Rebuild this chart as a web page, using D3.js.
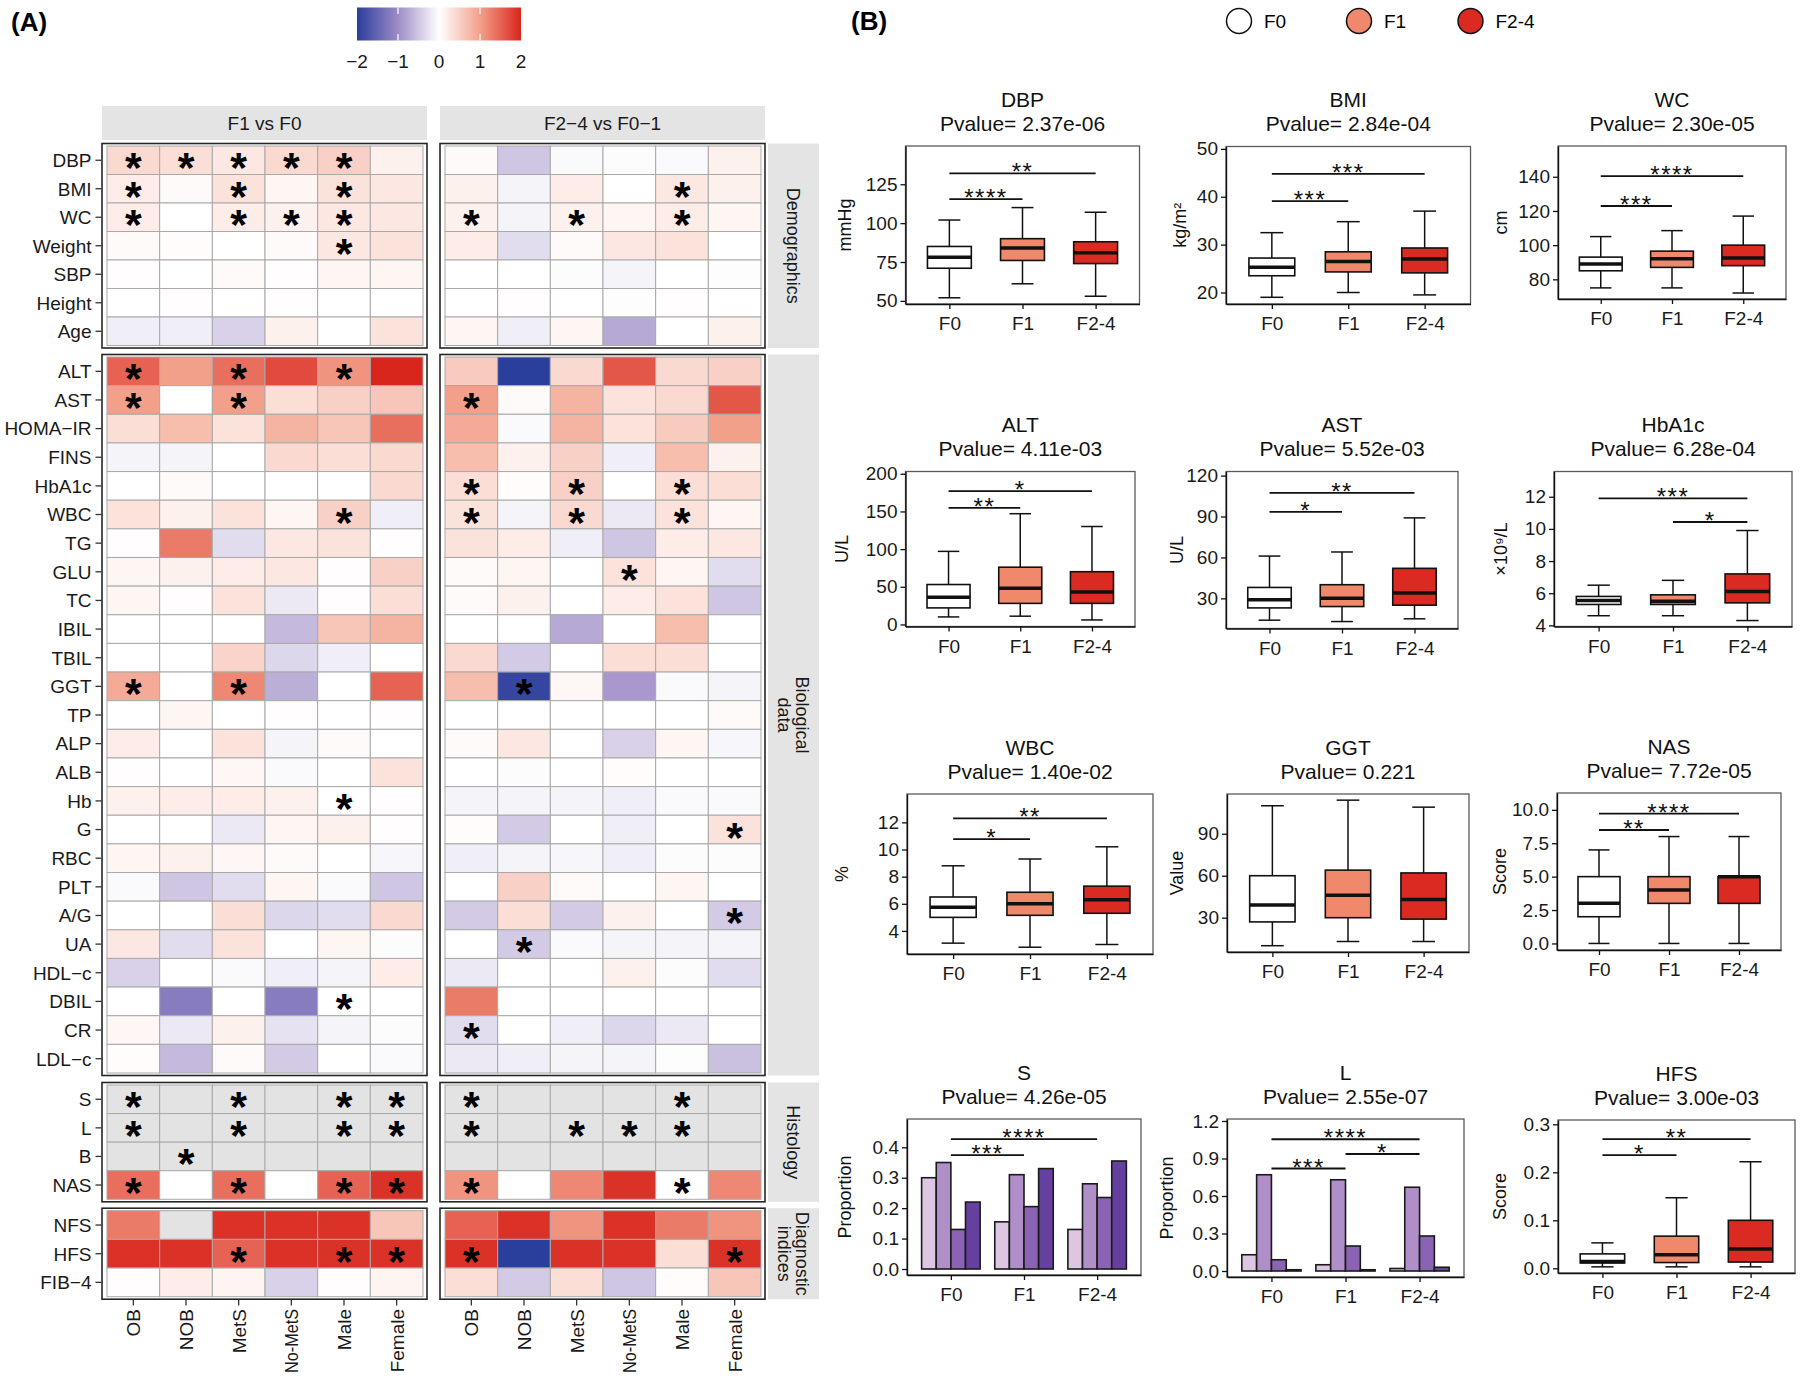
<!DOCTYPE html>
<html>
<head>
<meta charset="utf-8">
<script src="https://cdn.jsdelivr.net/npm/d3@7"></script>
<style>
  body { margin: 0; background: #fff; }
  text { font-family: "Liberation Sans", Arial, sans-serif; }
</style>
</head>
<body>
<svg id="fig" width="1800" height="1381"></svg>
<script>
//:\\\ data //:\\\

var subgroups = ["OB", "NOB", "MetS", "No-MetS", "Male", "Female"];
var demoNames = ["DBP", "BMI", "WC", "Weight", "SBP", "Height", "Age"];
var bioNames = ["ALT", "AST", "HOMA\u2212IR", "FINS", "HbA1c", "WBC", "TG", "GLU", "TC", "IBIL", "TBIL", "GGT", "TP",
                "ALP", "ALB", "Hb", "G", "RBC", "PLT", "A/G", "UA", "HDL\u2212c", "DBIL", "CR", "LDL\u2212c"];
var histNames = ["S", "L", "B", "NAS"];
var diagNames = ["NFS", "HFS", "FIB\u22124"];

// F1 vs F0 (left facet), one row per variable, columns = subgroups
var f1Demo = [
  [0.4, 0.35, 0.25, 0.4, 0.5, 0.15],
  [0.2, 0.05, 0.3, 0.1, 0.3, 0.25],
  [0.2, 0.0, 0.2, 0.15, 0.25, 0.25],
  [0.05, 0.03, 0.0, 0.05, 0.25, 0.3],
  [0.02, 0.0, 0.05, 0.02, 0.1, 0.1],
  [0.0, 0.02, 0.0, 0.02, 0.0, 0.0],
  [-0.15, -0.15, -0.4, 0.15, 0.0, 0.3]
];
var f1DemoStar = ["111110", "101010", "101110", "000010", "000000", "000000", "000000"];
var f1Bio = [
  [1.5, 1.0, 1.4, 1.7, 1.1, 2.0],
  [1.0, 0.0, 1.0, 0.35, 0.5, 0.6],
  [0.35, 0.7, 0.3, 0.8, 0.6, 1.4],
  [-0.1, -0.1, 0.0, 0.4, 0.35, 0.4],
  [0.0, 0.05, 0.0, 0.0, 0.0, 0.4],
  [0.3, 0.15, 0.3, 0.1, 0.5, -0.15],
  [0.02, 1.3, -0.3, 0.25, 0.3, 0.02],
  [0.1, 0.15, 0.2, 0.25, 0.02, 0.5],
  [0.1, 0.02, 0.3, -0.2, 0.02, 0.35],
  [0.0, 0.0, 0.0, -0.6, 0.6, 0.8],
  [0.0, 0.0, 0.45, -0.35, -0.15, 0.0],
  [0.9, 0.0, 1.2, -0.7, 0.0, 1.5],
  [0.0, 0.1, 0.0, 0.02, 0.0, 0.02],
  [0.2, 0.0, 0.3, -0.1, 0.05, 0.0],
  [0.02, 0.0, 0.08, -0.05, 0.0, 0.3],
  [0.15, 0.2, 0.2, 0.15, 0.0, 0.02],
  [0.0, 0.0, -0.2, 0.1, 0.15, 0.02],
  [0.1, 0.15, 0.08, 0.05, 0.0, -0.08],
  [-0.05, -0.5, -0.3, 0.1, -0.05, -0.5],
  [0.0, 0.0, 0.35, -0.35, -0.3, 0.4],
  [0.25, -0.3, 0.3, 0.0, 0.1, -0.03],
  [-0.4, 0.0, -0.05, -0.15, -0.1, 0.2],
  [0.0, -1.2, 0.0, -1.2, 0.0, 0.0],
  [0.08, -0.2, 0.15, -0.25, -0.1, -0.03],
  [0.03, -0.6, 0.05, -0.45, 0.0, -0.05]
];
var f1BioStar = ["101010", "101000", "000000", "000000", "000000", "000010", "000000", "000000", "000000",
                 "000000", "000000", "101000", "000000", "000000", "000000", "000010", "000000", "000000",
                 "000000", "000000", "000000", "000000", "000010", "000000", "000000"];
var f1Hist = [
  [null, null, null, null, null, null],
  [null, null, null, null, null, null],
  [null, null, null, null, null, null],
  [1.4, 0.0, 1.4, 0.0, 1.5, 1.9]
];
var f1HistStar = ["101011", "101011", "010000", "101011"];
var f1Diag = [
  [1.3, null, 1.9, 1.9, 1.9, 0.6],
  [1.9, 1.9, 1.5, 1.9, 1.9, 1.9],
  [0.02, 0.2, 0.12, -0.4, 0.02, 0.12]
];
var f1DiagStar = ["000000", "001011", "000000"];

// F2-4 vs F0-1 (right facet)
var f24Demo = [
  [0.05, -0.5, -0.05, -0.03, -0.05, 0.15],
  [0.15, -0.1, 0.2, 0.0, 0.25, 0.15],
  [0.15, -0.1, 0.15, 0.1, 0.2, 0.1],
  [0.2, -0.3, 0.05, 0.25, 0.3, 0.0],
  [0.0, 0.0, -0.03, -0.1, 0.0, -0.02],
  [0.0, 0.02, 0.0, -0.02, 0.02, 0.0],
  [0.1, -0.15, 0.1, -0.75, 0.0, 0.15]
];
var f24DemoStar = ["000000", "000010", "101010", "000000", "000000", "000000", "000000"];
var f24Bio = [
  [0.55, -2.0, 0.4, 1.6, 0.4, 0.5],
  [1.0, 0.05, 0.8, 0.3, 0.4, 1.6],
  [0.9, -0.05, 0.8, 0.3, 0.55, 1.0],
  [0.7, 0.15, 0.5, -0.15, 0.7, 0.15],
  [0.35, 0.03, 0.5, 0.0, 0.35, 0.35],
  [0.3, -0.1, 0.4, -0.2, 0.3, 0.1],
  [0.3, 0.2, -0.15, -0.5, 0.2, 0.25],
  [0.05, 0.1, 0.0, 0.3, 0.1, -0.3],
  [0.05, 0.15, 0.0, 0.2, 0.3, -0.5],
  [0.0, 0.0, -0.75, 0.0, 0.7, 0.0],
  [0.4, -0.45, 0.0, 0.35, 0.35, 0.0],
  [0.7, -1.9, 0.08, -0.9, -0.05, -0.1],
  [0.0, 0.0, 0.0, 0.0, 0.0, 0.05],
  [0.05, 0.25, 0.0, -0.4, 0.1, -0.08],
  [0.0, -0.03, 0.0, 0.03, 0.0, 0.0],
  [-0.1, -0.1, -0.1, -0.15, -0.05, -0.05],
  [0.03, -0.45, 0.0, -0.15, 0.0, 0.3],
  [-0.15, -0.1, -0.08, -0.15, -0.03, -0.03],
  [0.0, 0.5, 0.05, 0.0, 0.1, 0.0],
  [-0.45, 0.35, -0.45, 0.15, 0.0, -0.45],
  [0.0, -0.45, -0.05, -0.1, -0.1, -0.1],
  [-0.2, 0.0, 0.0, 0.15, -0.03, -0.3],
  [1.3, 0.0, 0.0, 0.0, 0.0, 0.0],
  [-0.3, 0.0, -0.15, -0.35, -0.2, 0.0],
  [-0.2, -0.15, -0.1, -0.1, -0.02, -0.55]
];
var f24BioStar = ["000000", "100000", "000000", "000000", "101010", "101010", "000000", "000100", "000000",
                  "000000", "000000", "010000", "000000", "000000", "000000", "000000", "000001", "000000",
                  "000000", "000001", "010000", "000000", "000000", "100000", "000000"];
var f24Hist = [
  [null, null, null, null, null, null],
  [null, null, null, null, null, null],
  [null, null, null, null, null, null],
  [1.1, 0.0, 1.2, 1.9, 0.0, 1.2]
];
var f24HistStar = ["100010", "101110", "000000", "100010"];
var f24Diag = [
  [1.5, 1.9, 1.1, 1.9, 1.3, 1.1],
  [1.9, -2.0, 1.9, 1.9, 0.35, 1.9],
  [0.35, -0.45, 0.35, -0.5, 0.03, 0.6]
];
var f24DiagStar = ["000000", "100001", "000000"];

// panel B: box stats per stage = [low whisker, Q1, median, Q3, high whisker]
var stages = ["F0", "F1", "F2-4"];
var dbpBox = [[52, 71, 78, 85, 102], [61, 76, 84, 90, 110], [53, 74, 81, 88, 107]];
var bmiBox = [[19, 23.5, 25.3, 27.2, 32.5], [20, 24.3, 26.5, 28.5, 34.8], [19.5, 24.1, 27, 29.3, 37]];
var wcBox = [[75, 85, 89, 93, 105], [75, 87, 92, 96.5, 108.5], [72, 88, 92.5, 100, 117]];
var altBox = [[10, 22, 36, 53, 97], [11, 28, 48, 76, 147], [6, 28, 43, 70, 130]];
var astBox = [[14, 23, 29, 38, 61], [13, 24, 30, 40, 64], [15, 25, 34, 52, 89]];
var hba1cBox = [[4.6, 5.3, 5.55, 5.8, 6.5], [4.6, 5.3, 5.5, 5.9, 6.8], [4.3, 5.4, 6.1, 7.2, 9.9]];
var wbcBox = [[3.1, 5.0, 5.75, 6.5, 8.8], [2.8, 5.15, 6.0, 6.85, 9.3], [3.0, 5.3, 6.3, 7.3, 10.2]];
var ggtBox = [[10, 27, 39, 60, 110], [13, 30, 46, 64, 114], [13, 29, 43, 62, 109]];
var nasBox = [[0, 2, 3, 5, 7], [0, 3, 4, 5, 8], [0, 3, 5, 5, 8]];
var hfsBox = [[0.003, 0.011, 0.014, 0.03, 0.053], [0.003, 0.012, 0.028, 0.067, 0.147], [0.003, 0.013, 0.04, 0.1, 0.222]];
// proportions of grade 0..3 per stage
var sBars = [[0.30, 0.35, 0.13, 0.22], [0.155, 0.31, 0.205, 0.33], [0.13, 0.28, 0.235, 0.355]];
var lBars = [[0.13, 0.77, 0.09, 0.01], [0.05, 0.73, 0.20, 0.01], [0.02, 0.67, 0.28, 0.03]];

// significance brackets: [from stage, to stage, height, label]
var dbpSig = [[0, 1, 115.5, "****"], [0, 2, 132, "**"]];
var bmiSig = [[0, 1, 39.1, "***"], [0, 2, 44.8, "***"]];
var wcSig = [[0, 1, 122.9, "***"], [0, 2, 140.4, "****"]];
var altSig = [[0, 1, 154.8, "**"], [0, 2, 177, "*"]];
var astSig = [[0, 1, 93.4, "*"], [0, 2, 107.4, "**"]];
var hba1cSig = [[0, 2, 11.9, "***"], [1, 2, 10.43, "*"]];
var wbcSig = [[0, 1, 10.76, "*"], [0, 2, 12.29, "**"]];
var nasSig = [[0, 1, 8.49, "**"], [0, 2, 9.72, "****"]];
var sSig = [[0, 1, 0.374, "***"], [0, 2, 0.427, "****"]];
var lSig = [[0, 1, 0.82, "***"], [1, 2, 0.936, "*"], [0, 2, 1.054, "****"]];
var hfsSig = [[0, 1, 0.236, "*"], [0, 2, 0.269, "**"]];

var legendTicks = [-2, -1, 0, 1, 2];

//:\\\ drawing //:\\\

var svg = d3.select("#fig");

var heat = d3.scaleLinear()
  .domain([-2, -1, 0, 1, 2])
  .range(["#2a3e9c", "#9e8cc7", "#ffffff", "#f3a08a", "#d8261d"])
  .clamp(true);

var stageFill = ["#ffffff", "#f0886b", "#db2a22"];
var gradeFill = ["#dcc6e2", "#b08fc8", "#8a63b3", "#66409f"];

// ---- panel A ----
svg.append("text").attr("x", 11).attr("y", 31)
  .style("font-size", "26px").style("font-weight", "bold").text("(A)");

// colour bar
var barX = d3.scaleLinear().domain([-2, 2]).range([357, 521]);
var grad = svg.append("defs").append("linearGradient").attr("id", "cbar");
d3.range(0, 41).forEach(function(i) {
  var v = -2 + i * 0.1;
  grad.append("stop").attr("offset", (i / 40 * 100) + "%").attr("stop-color", heat(v));
});
svg.append("rect").attr("x", 357).attr("y", 7.5).attr("width", 164).attr("height", 33)
  .attr("fill", "url(#cbar)");
legendTicks.slice(1, 4).forEach(function(t) {
  svg.append("line").attr("x1", barX(t)).attr("x2", barX(t)).attr("y1", 7.5).attr("y2", 14)
    .attr("stroke", "#fff").attr("stroke-width", 1.2);
  svg.append("line").attr("x1", barX(t)).attr("x2", barX(t)).attr("y1", 34).attr("y2", 40.5)
    .attr("stroke", "#fff").attr("stroke-width", 1.2);
});
svg.selectAll(".cbl").data(legendTicks).enter().append("text")
  .attr("x", function(d) { return barX(d); }).attr("y", 68)
  .attr("text-anchor", "middle").style("font-size", "19px").style("fill", "#1a1a1a")
  .text(function(d) { return d < 0 ? "\u2212" + Math.abs(d) : d; });

var xLeft = d3.scaleBand().domain(subgroups).range([107, 423]);
var xRight = d3.scaleBand().domain(subgroups).range([445, 761]);

// top strips
[[102, 427, "F1 vs F0"], [440, 765, "F2\u22124 vs F0\u22121"]].forEach(function(s) {
  svg.append("rect").attr("x", s[0]).attr("y", 106).attr("width", s[1] - s[0]).attr("height", 34)
    .attr("fill", "#e4e4e4");
  svg.append("text").attr("x", (s[0] + s[1]) / 2).attr("y", 130).attr("text-anchor", "middle")
    .style("font-size", "19px").style("fill", "#1a1a1a").text(s[2]);
});

var blocks = [
  { names: demoNames, left: f1Demo, leftStar: f1DemoStar, right: f24Demo, rightStar: f24DemoStar,
    y0: 143.5, y1: 348, strip: ["Demographics"] },
  { names: bioNames, left: f1Bio, leftStar: f1BioStar, right: f24Bio, rightStar: f24BioStar,
    y0: 354.5, y1: 1075.5, strip: ["Biological", "data"] },
  { names: histNames, left: f1Hist, leftStar: f1HistStar, right: f24Hist, rightStar: f24HistStar,
    y0: 1082.5, y1: 1201.8, strip: ["Histology"] },
  { names: diagNames, left: f1Diag, leftStar: f1DiagStar, right: f24Diag, rightStar: f24DiagStar,
    y0: 1208.2, y1: 1299.2, strip: ["Diagnostic", "indices"] }
];

blocks.forEach(function(b) {
  var yb = d3.scaleBand().domain(b.names).range([b.y0 + 2.5, b.y1 - 2.5]);

  [[xLeft, b.left, b.leftStar, 102, 427], [xRight, b.right, b.rightStar, 440, 765]].forEach(function(side) {
    var xs = side[0], vals = side[1], stars = side[2];
    var g = svg.append("g");
    b.names.forEach(function(name, r) {
      subgroups.forEach(function(grp, c) {
        var v = vals[r][c];
        g.append("rect")
          .attr("x", xs(grp)).attr("y", yb(name))
          .attr("width", xs.bandwidth()).attr("height", yb.bandwidth())
          .attr("fill", v === null ? "#e3e3e3" : heat(v))
          .attr("stroke", "#a9a9a9").attr("stroke-width", 1);
        if (stars[r][c] === "1") {
          g.append("text")
            .attr("x", xs(grp) + xs.bandwidth() / 2)
            .attr("y", yb(name) + yb.bandwidth() / 2 + 22)
            .attr("text-anchor", "middle")
            .style("font-size", "43px").style("font-weight", "bold")
            .text("*");
        }
      });
    });
    g.append("rect").attr("x", side[3]).attr("y", b.y0)
      .attr("width", side[4] - side[3]).attr("height", b.y1 - b.y0)
      .attr("fill", "none").attr("stroke", "#262626").attr("stroke-width", 1.6);
  });

  // y labels + ticks
  b.names.forEach(function(name) {
    var cy = yb(name) + yb.bandwidth() / 2;
    svg.append("line").attr("x1", 95.5).attr("x2", 101.5).attr("y1", cy).attr("y2", cy)
      .attr("stroke", "#333").attr("stroke-width", 1.3);
    svg.append("text").attr("x", 91.5).attr("y", cy).attr("dy", "0.36em")
      .attr("text-anchor", "end").style("font-size", "19px").style("fill", "#1a1a1a").text(name);
  });

  // right strip
  svg.append("rect").attr("x", 768).attr("y", b.y0).attr("width", 51).attr("height", b.y1 - b.y0)
    .attr("fill", "#e4e4e4");
  var cy = (b.y0 + b.y1) / 2;
  var st = svg.append("text").attr("transform", "translate(793," + cy + ") rotate(90)")
    .attr("text-anchor", "middle").style("font-size", "18px").style("fill", "#1a1a1a");
  var n = b.strip.length;
  b.strip.forEach(function(line, i) {
    st.append("tspan").attr("x", 0).attr("y", (i - (n - 1) / 2) * 18).attr("dy", "0.35em").text(line);
  });
});

// x axis of heat maps
[xLeft, xRight].forEach(function(xs) {
  subgroups.forEach(function(grp) {
    var cx = xs(grp) + xs.bandwidth() / 2;
    svg.append("line").attr("x1", cx).attr("x2", cx).attr("y1", 1299.5).attr("y2", 1305.5)
      .attr("stroke", "#333").attr("stroke-width", 1.3);
    var t = svg.append("text").attr("transform", "translate(" + cx + ",1309) rotate(-90)")
      .attr("dy", "0.36em").attr("text-anchor", "end")
      .style("font-size", "19px").style("fill", "#1a1a1a").text(grp);
    if (grp === "No-MetS") {
      // squeezed in the original so it stays inside the figure
      t.attr("textLength", 64).attr("lengthAdjust", "spacingAndGlyphs");
    }
  });
});

// ---- panel B ----
svg.append("text").attr("x", 851).attr("y", 30)
  .style("font-size", "26px").style("font-weight", "bold").text("(B)");

[[1239, "F0"], [1359, "F1"], [1470.5, "F2-4"]].forEach(function(l, i) {
  svg.append("circle").attr("cx", l[0]).attr("cy", 21).attr("r", 12.5)
    .attr("fill", stageFill[i]).attr("stroke", "#111").attr("stroke-width", 1.5);
  svg.append("text").attr("x", l[0] + 25).attr("y", 28).style("font-size", "19px").text(l[1]);
});

var panels = [
  { title: "DBP", p: "2.37e-06", ylab: "mmHg", labX: 845, x0: 905.5, x1: 1139.5, y0: 146, y1: 304,
    dom: [48, 149.6], ticks: [50, 75, 100, 125], box: dbpBox, sig: dbpSig },
  { title: "BMI", p: "2.84e-04", ylab: "kg/m\u00b2", labX: 1180, x0: 1226, x1: 1470.5, y0: 146.5, y1: 304,
    dom: [17.6, 50.5], ticks: [20, 30, 40, 50], box: bmiBox, sig: bmiSig },
  { title: "WC", p: "2.30e-05", ylab: "cm", labX: 1501, x0: 1558, x1: 1786, y0: 146, y1: 299,
    dom: [68.5, 158], ticks: [80, 100, 120, 140], box: wcBox, sig: wcSig },
  { title: "ALT", p: "4.11e-03", ylab: "U/L", labX: 842, x0: 905.5, x1: 1135, y0: 471.5, y1: 626.5,
    dom: [-2.7, 203], ticks: [0, 50, 100, 150, 200], box: altBox, sig: altSig },
  { title: "AST", p: "5.52e-03", ylab: "U/L", labX: 1176.5, x0: 1226, x1: 1458, y0: 471.5, y1: 628.5,
    dom: [7.9, 123], ticks: [30, 60, 90, 120], box: astBox, sig: astSig },
  { title: "HbA1c", p: "6.28e-04", ylab: "\u00d710\u2079/L", labX: 1501, x0: 1554, x1: 1792, y0: 471.5, y1: 626.5,
    dom: [3.93, 13.57], ticks: [4, 6, 8, 10, 12], box: hba1cBox, sig: hba1cSig },
  { title: "WBC", p: "1.40e-02", ylab: "%", labX: 842, x0: 907, x1: 1153, y0: 794, y1: 954,
    dom: [2.3, 14.09], ticks: [4, 6, 8, 10, 12], box: wbcBox, sig: wbcSig },
  { title: "GGT", p: "0.221", ylab: "Value", labX: 1176.5, x0: 1227, x1: 1469, y0: 794, y1: 952,
    dom: [5.5, 118.4], ticks: [30, 60, 90], box: ggtBox, sig: [] },
  { title: "NAS", p: "7.72e-05", ylab: "Score", labX: 1500, x0: 1557, x1: 1781, y0: 793, y1: 950,
    dom: [-0.49, 11.26], ticks: [0, 2.5, 5, 7.5, 10], fmt: ".1f", box: nasBox, sig: nasSig },
  { title: "S", p: "4.26e-05", ylab: "Proportion", labX: 845, x0: 907, x1: 1141, y0: 1119, y1: 1275,
    dom: [-0.0197, 0.493], ticks: [0, 0.1, 0.2, 0.3, 0.4], fmt: ".1f", bars: sBars, sig: sSig },
  { title: "L", p: "2.55e-07", ylab: "Proportion", labX: 1167, x0: 1227, x1: 1464, y0: 1119, y1: 1277,
    dom: [-0.048, 1.216], ticks: [0, 0.3, 0.6, 0.9, 1.2], fmt: ".1f", bars: lBars, sig: lSig },
  { title: "HFS", p: "3.00e-03", ylab: "Score", labX: 1500, x0: 1558, x1: 1795, y0: 1120, y1: 1273,
    dom: [-0.0098, 0.309], ticks: [0, 0.1, 0.2, 0.3], fmt: ".1f", box: hfsBox, sig: hfsSig }
];

function styleAxis(a) {
  a.selectAll("path").attr("stroke", "#111").attr("stroke-width", 1.4);
  a.selectAll("line").attr("stroke", "#111").attr("stroke-width", 1.3);
  a.selectAll("text").style("font-size", "19px").style("fill", "#1a1a1a")
    .style("font-family", "'Liberation Sans', Arial, sans-serif");
}

panels.forEach(function(cfg) {
  var g = svg.append("g");
  var x = d3.scalePoint().domain(stages).range([cfg.x0, cfg.x1]).padding(0.6);
  var y = d3.scaleLinear().domain(cfg.dom).range([cfg.y1, cfg.y0]);
  var step = x.step();
  var cxm = (cfg.x0 + cfg.x1) / 2;

  g.append("text").attr("x", cxm).attr("y", cfg.y0 - 39.5).attr("text-anchor", "middle")
    .style("font-size", "21px").style("fill", "#111").text(cfg.title);
  g.append("text").attr("x", cxm).attr("y", cfg.y0 - 15.5).attr("text-anchor", "middle")
    .style("font-size", "21px").style("fill", "#111").text("Pvalue= " + cfg.p);

  g.append("rect").attr("x", cfg.x0).attr("y", cfg.y0)
    .attr("width", cfg.x1 - cfg.x0).attr("height", cfg.y1 - cfg.y0)
    .attr("fill", "none").attr("stroke", "#5a5a5a").attr("stroke-width", 1.3);

  if (cfg.bars) {
    var bw = step * 0.8 / 4;
    cfg.bars.forEach(function(vals, i) {
      vals.forEach(function(v, j) {
        g.append("rect")
          .attr("x", x(stages[i]) - step * 0.4 + j * bw).attr("y", y(v))
          .attr("width", bw).attr("height", y(0) - y(v))
          .attr("fill", gradeFill[j]).attr("stroke", "#1a1a1a").attr("stroke-width", 1.6);
      });
    });
  } else {
    var hw = step * 0.3, cw = step * 0.15;
    cfg.box.forEach(function(s, i) {
      var cx = x(stages[i]);
      g.append("line").attr("x1", cx).attr("x2", cx).attr("y1", y(s[0])).attr("y2", y(s[1]))
        .attr("stroke", "#111").attr("stroke-width", 1.5);
      g.append("line").attr("x1", cx).attr("x2", cx).attr("y1", y(s[3])).attr("y2", y(s[4]))
        .attr("stroke", "#111").attr("stroke-width", 1.5);
      [s[0], s[4]].forEach(function(v) {
        g.append("line").attr("x1", cx - cw).attr("x2", cx + cw).attr("y1", y(v)).attr("y2", y(v))
          .attr("stroke", "#111").attr("stroke-width", 1.5);
      });
      g.append("rect").attr("x", cx - hw).attr("y", y(s[3]))
        .attr("width", hw * 2).attr("height", y(s[1]) - y(s[3]))
        .attr("fill", stageFill[i]).attr("stroke", "#111").attr("stroke-width", 1.6);
      g.append("line").attr("x1", cx - hw).attr("x2", cx + hw).attr("y1", y(s[2])).attr("y2", y(s[2]))
        .attr("stroke", "#111").attr("stroke-width", 3.5);
    });
  }

  cfg.sig.forEach(function(s) {
    var xa = x(stages[s[0]]), xb = x(stages[s[1]]), yy = y(s[2]);
    g.append("line").attr("x1", xa).attr("x2", xb).attr("y1", yy).attr("y2", yy)
      .attr("stroke", "#111").attr("stroke-width", 1.8);
    g.append("text").attr("x", (xa + xb) / 2).attr("y", yy + 7).attr("text-anchor", "middle")
      .style("font-size", "24px").style("letter-spacing", "1.5px").style("fill", "#111").text(s[3]);
  });

  var ay = g.append("g").attr("transform", "translate(" + cfg.x0 + ",0)")
    .call(d3.axisLeft(y).tickValues(cfg.ticks).tickSize(5).tickSizeOuter(0)
      .tickFormat(cfg.fmt ? d3.format(cfg.fmt) : null));
  var ax = g.append("g").attr("transform", "translate(0," + cfg.y1 + ")")
    .call(d3.axisBottom(x).tickSize(5).tickSizeOuter(0));
  styleAxis(ay);
  styleAxis(ax);
  ax.selectAll("text").attr("dy", "0.95em");

  g.append("text").attr("transform", "translate(" + cfg.labX + "," + ((cfg.y0 + cfg.y1) / 2) + ") rotate(-90)")
    .attr("dy", "0.35em").attr("text-anchor", "middle")
    .style("font-size", "18px").style("fill", "#111").text(cfg.ylab);
});
</script>
</body>
</html>
